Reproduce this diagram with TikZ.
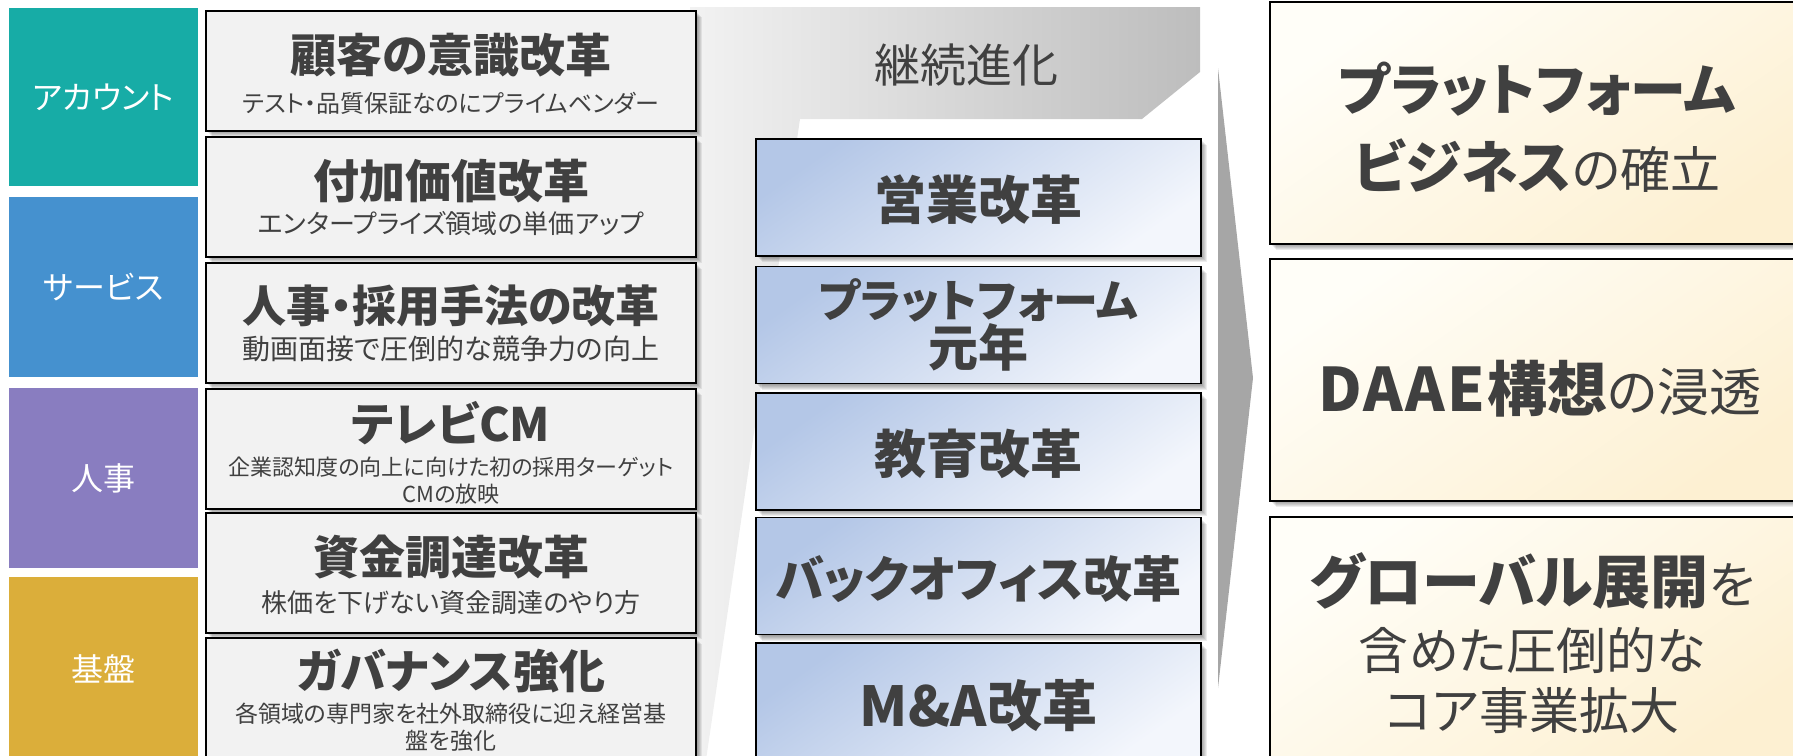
\documentclass[tikz,border=0pt]{standalone}
\usepackage{fontspec}
\setmainfont{Noto Sans CJK JP}[RawFeature=+palt]
\definecolor{txtgray}{HTML}{404040}
\definecolor{cteal}{HTML}{17ACA6}
\definecolor{cblue}{HTML}{4591CF}
\definecolor{cpurple}{HTML}{897DC0}
\definecolor{cgold}{HTML}{DBAE3A}
\definecolor{boxgray}{HTML}{F2F2F2}
\definecolor{blueA}{HTML}{B4C7E7}
\definecolor{blueB}{HTML}{F3F6FC}
\definecolor{creamA}{HTML}{FFFEF8}
\definecolor{creamB}{HTML}{FDF0D2}
\definecolor{shapeL}{HTML}{F2F2F2}
\definecolor{shapeR}{HTML}{BDBDBD}
\definecolor{wedgegray}{HTML}{A6A6A6}
\newcommand\fsz[2]{\fontsize{#1}{#2}\selectfont}
\pgfdeclarelayer{bg}
\pgfdeclarelayer{shadow}
\pgfsetlayers{bg,shadow,main}
\newcommand\shadowof[1]{%
  \begin{pgfonlayer}{shadow}
  \foreach \d in {1,...,6}{%
    \fill[black, opacity=0.075] ([shift={(\d,\d)}]#1.north west) rectangle ([shift={(\d,\d)}]#1.south east);}
  \end{pgfonlayer}}
\begin{document}
\begin{tikzpicture}[x=1pt,y=-1pt,
  every node/.style={inner sep=0pt, outer sep=0pt},
  labelbox/.style={minimum width=189pt, text=white, font=\fsz{32}{40}},
  graybox/.style={draw=black, line width=1.8pt, fill=boxgray, minimum width=490pt, minimum height=120pt},
  bluebox/.style={draw=black, line width=1.8pt, minimum width=445pt, minimum height=117pt, top color=blueA, bottom color=blueB, shading angle=35},
  goalbox/.style={draw=black, line width=1.8pt, minimum width=534pt, minimum height=242pt, top color=creamA, bottom color=creamB, shading angle=35},
  txt/.style={text=txtgray, align=center},
  head/.style={txt, font=\fsz{46}{50}\bfseries},
  bhead/.style={txt, font=\fsz{52}{49}\bfseries},
]
% background evolution shape and arrow wedge
\begin{pgfonlayer}{bg}
\path[left color=shapeL, right color=shapeR] (690,7) -- (1200,7) -- (1200,72) -- (1142,119) -- (800,119) -- (706,760) -- (690,760) -- cycle;
\fill[wedgegray] (1218,68) -- (1253,378) -- (1218,688) -- cycle;
\end{pgfonlayer}
\node[txt, font=\fsz{46}{50}] (title) at (966,65) {継続進化};

% left category labels
\node[labelbox, fill=cteal, minimum height=178pt] (L1) at (103.5,97) {アカウント};
\node[labelbox, fill=cblue, minimum height=180pt] (L2) at (103.5,287) {サービス};
\node[labelbox, fill=cpurple, minimum height=180pt] (L3) at (103.5,478) {人事};
\node[labelbox, fill=cgold, minimum height=183pt] (L4) at (103.5,668.5) {基盤};

% gray reform boxes
\node[graybox] (G1) at (451,71) {};
\node[head] (G1h) at (451,55) {顧客の意識改革};
\node[txt, font=\fsz{24}{29}] (G1s) at (451,103) {テスト・品質保証なのにプライムベンダー};

\node[graybox] (G2) at (451,197) {};
\node[head] (G2h) at (451,181) {付加価値改革};
\node[txt, font=\fsz{26}{29}] (G2s) at (451,224) {エンタープライズ領域の単価アップ};

\node[graybox] (G3) at (451,323) {};
\node[head, font=\fsz{44}{50}\bfseries] (G3h) at (451,306) {人事・採用手法の改革};
\node[txt, font=\fsz{28}{30}] (G3s) at (451,349) {動画面接で圧倒的な競争力の向上};

\node[graybox] (G4) at (451,449) {};
\node[head] (G4h) at (451,423) {テレビCM};
\node[txt, font=\fsz{22}{27}] (G4s) at (451,480.5) {企業認知度の向上に向けた初の採用ターゲット\\CMの放映};

\node[graybox] (G5) at (451,573) {};
\node[head] (G5h) at (451,557) {資金調達改革};
\node[txt, font=\fsz{26}{29}] (G5s) at (451,603) {株価を下げない資金調達のやり方};

\node[graybox] (G6) at (451,698) {};
\node[head] (G6h) at (451,671) {ガバナンス強化};
\node[txt, font=\fsz{23}{27}] (G6s) at (451,727.5) {各領域の専門家を社外取締役に迎え経営基\\盤を強化};

\foreach \n in {G1,G2,G3,G4,G5,G6}{\shadowof{\n}}

% blue boxes
\node[bluebox] (B1) at (978.5,197.5) {};
\node[bhead] (B1t) at (978.5,200) {営業改革};
\node[bluebox] (B2) at (978.5,325) {};
\node[txt, font=\fsz{45}{49}\bfseries] (B2t) at (978.5,324.5) {プラットフォーム\\{\fsz{50}{49}元年}};
\node[bluebox] (B3) at (978.5,451.5) {};
\node[bhead] (B3t) at (978.5,454) {教育改革};
\node[bluebox] (B4) at (978.5,576) {};
\node[bhead, font=\fsz{49}{49}\bfseries] (B4t) at (978.5,579) {バックオフィス改革};
\node[bluebox] (B5) at (978.5,701.5) {};
\node[bhead, font=\fsz{55}{49}\bfseries] (B5t) at (978.5,706) {M\&A改革};

\foreach \n in {B1,B2,B3,B4,B5}{\shadowof{\n}}

% goal boxes
\node[goalbox] (R1) at (1537,123) {};
\node[txt, font=\fsz{56}{60}\bfseries] (R1a) at (1537,89) {プラットフォーム};
\node[txt, font=\fsz{57}{60}] (R1b) at (1537,166) {\textbf{ビジネス}{\fsz{50}{60}の確立}};

\node[goalbox] (R2) at (1537,380) {};
\node[txt, font=\fsz{60}{60}] (R2a) at (1540,389) {\textbf{\addfontfeature{LetterSpace=4}DAAE}\textbf{構想}{\fsz{52}{60}の浸透}};

\node[goalbox] (R3) at (1537,638) {};
\node[txt, font=\fsz{58}{60}] (R3a) at (1532,581) {\textbf{グローバル展開}{\fsz{50}{60}を}};
\node[txt, font=\fsz{50}{60}] (R3b) at (1532,650) {含めた圧倒的な};
\node[txt, font=\fsz{50}{60}] (R3c) at (1532,711) {コア事業拡大};

\foreach \n in {R1,R2,R3}{\shadowof{\n}}

\pgfresetboundingbox
\path[use as bounding box] (0,0) rectangle (1793,755);
\end{tikzpicture}
\end{document}
